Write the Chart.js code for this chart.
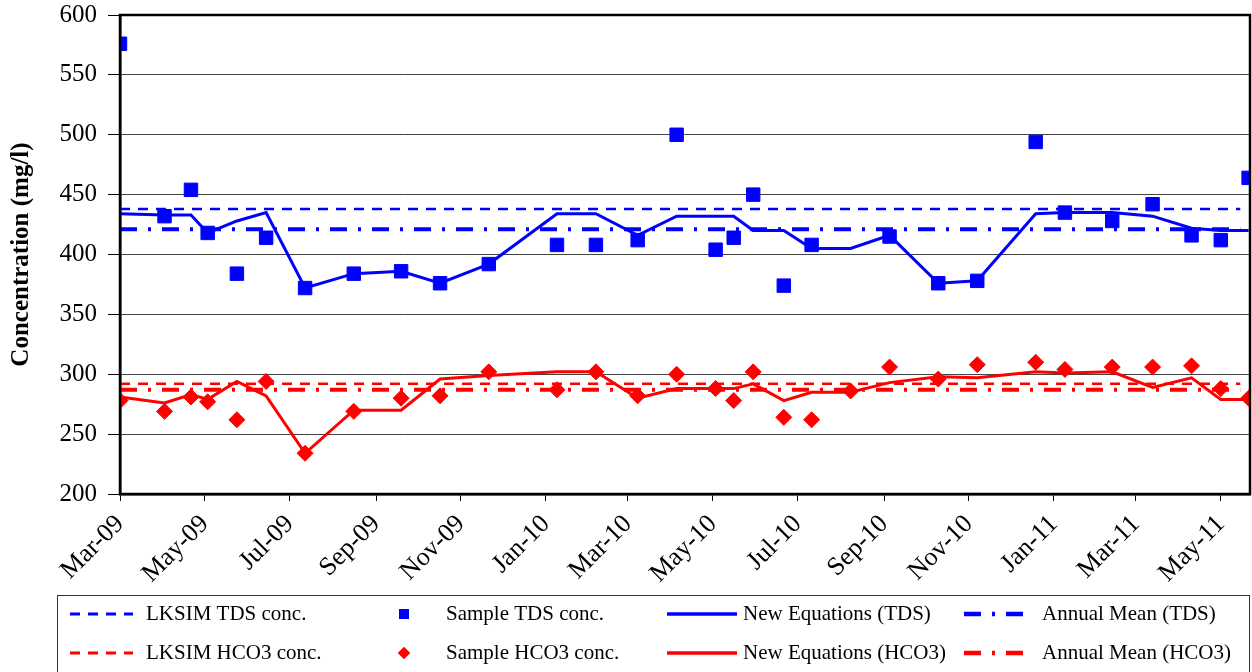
<!DOCTYPE html>
<html>
<head>
<meta charset="utf-8">
<script src="https://cdn.jsdelivr.net/npm/chart.js@4/dist/chart.umd.min.js"></script>
<style>
  html, body { margin: 0; padding: 0; background: #fff; }
  #wrap { width: 1252px; height: 672px; }
</style>
</head>
<body>
<div id="wrap"><canvas id="concChart" width="1252" height="672"></canvas></div>
<script>
// Sampling dates
const sampleDates = [
  '2009-03-01', '2009-04-02', '2009-04-21', '2009-05-03', '2009-05-24', '2009-06-14',
  '2009-07-12', '2009-08-16', '2009-09-19', '2009-10-17', '2009-11-21',
  '2010-01-09', '2010-02-06', '2010-03-08', '2010-04-05', '2010-05-03', '2010-05-16',
  '2010-05-30', '2010-06-21', '2010-07-11', '2010-08-08', '2010-09-05', '2010-10-10',
  '2010-11-07', '2010-12-19', '2011-01-09', '2011-02-12', '2011-03-13', '2011-04-10',
  '2011-05-01', '2011-05-21'
];
const sampleTds = [576, 432, 454, 418, 384, 414, 372, 384, 386, 376, 392,
  408, 408, 412, 500, 404, 414, 450, 374, 408, null, 415, 376, 378, 494,
  435, 428, 442, 416, 412, 464];
const newEqTds = [434, 433, 433, 418, 428, 435, 372, 384, 386, 376, 392,
  434, 434, 416, 432, 432, 432, 420, 420, 405, 405, 416, 376, 378, 434,
  435, 435, 432, 422, 420, 420];
const sampleHco3 = [278, 269, 281, 277, 262, 294, 234, 269, 280, 282, 302,
  287, 302, 282, 300, 288, 278, 302, 264, 262, 286, 306, 296, 308, 310,
  304, 306, 306, 307, 288, 280];
const newEqHco3 = [281, 276, 283, 279, 294, 282, 234, 270, 270, 296, 299,
  302, 302, 280, 288, 288, 288, 292, 278, 285, 285, 293, 298, 297, 302,
  301, 302, 289, 297, 279, 279];

// constant reference levels
const lksimTds = 438;
const annualMeanTds = 421;
const lksimHco3 = 292;
const annualMeanHco3 = 287;
const refLineDates = ['2009-03-01', '2011-05-15'];

// x axis
const tickDates = ['2009-03-01', '2009-05-01', '2009-07-01', '2009-09-01', '2009-11-01',
  '2010-01-01', '2010-03-01', '2010-05-01', '2010-07-01', '2010-09-01', '2010-11-01',
  '2011-01-01', '2011-03-01', '2011-05-01'];
const tickLabels = ['Mar-09', 'May-09', 'Jul-09', 'Sep-09', 'Nov-09', 'Jan-10', 'Mar-10',
  'May-10', 'Jul-10', 'Sep-10', 'Nov-10', 'Jan-11', 'Mar-11', 'May-11'];
const axisStart = '2009-03-01';
const axisEnd = '2011-05-22';

// days since axis start (no date adapter available)
const t0 = Date.UTC(2009, 2, 1);
const toDay = s => {
  const [y, m, d] = s.split('-').map(Number);
  return (Date.UTC(y, m - 1, d) - t0) / 86400000;
};
const pts = vals => sampleDates.map((d, i) => ({ x: toDay(d), y: vals[i] }));
const flat = v => refLineDates.map(d => ({ x: toDay(d), y: v }));

const BLUE = '#0000ff';
const RED = '#ff0000';
const DASH = [10, 8];
const DASHDOT = [17, 11, 3, 11];
const FONT = 'Liberation Serif';

const mkLine = (label, data, color, dash, width) => ({
  type: 'line', label, data, borderColor: color, backgroundColor: color,
  borderWidth: width, borderDash: dash, pointRadius: 0, pointHoverRadius: 0, tension: 0, fill: false
});
const mkPoints = (label, data, color, style, radius) => ({
  type: 'line', label, data, showLine: false, borderColor: color, backgroundColor: color,
  borderWidth: 1, pointStyle: style, pointRadius: radius, pointBorderWidth: 1
});

const datasets = [
  mkLine('LKSIM TDS conc.', flat(lksimTds), BLUE, DASH, 2.5),
  mkPoints('Sample TDS conc.', pts(sampleTds), BLUE, 'rect', 9.5),
  mkLine('New Equations (TDS)', pts(newEqTds), BLUE, [], 3),
  mkLine('Annual Mean (TDS)', flat(annualMeanTds), BLUE, DASHDOT, 4),
  mkLine('LKSIM HCO3 conc.', flat(lksimHco3), RED, DASH, 2.5),
  mkPoints('Sample HCO3 conc.', pts(sampleHco3), RED, 'rectRot', 8),
  mkLine('New Equations (HCO3)', pts(newEqHco3), RED, [], 3),
  mkLine('Annual Mean (HCO3)', flat(annualMeanHco3), RED, DASHDOT, 4)
];

// frame around plot area
const framePlugin = {
  id: 'frame',
  afterDatasetsDraw(chart) {
    const { ctx, chartArea: a } = chart;
    ctx.save();
    ctx.strokeStyle = '#000';
    ctx.lineWidth = 2.5;
    ctx.strokeRect(a.left, a.top, a.right - a.left, a.bottom - a.top);
    ctx.restore();
  }
};

// boxed legend, 4 columns x 2 rows
const legendCols = [
  { x0: 70, x1: 133, tx: 146 },
  { x0: 404, x1: 404, tx: 446 },
  { x0: 667, x1: 737, tx: 743 },
  { x0: 964, x1: 1023, tx: 1042 }
];
const legendRows = [614, 653];
const boxLegend = {
  id: 'boxLegend',
  afterDraw(chart) {
    const ctx = chart.ctx;
    ctx.save();
    ctx.strokeStyle = '#333';
    ctx.lineWidth = 1;
    ctx.strokeRect(57.5, 595.5, 1192, 80);
    chart.data.datasets.forEach((ds, i) => {
      const c = legendCols[i % 4];
      const y = legendRows[Math.floor(i / 4)];
      if (ds.showLine === false) {
        ctx.fillStyle = ds.backgroundColor;
        ctx.beginPath();
        Chart.helpers.drawPoint(ctx, { pointStyle: ds.pointStyle, radius: ds.pointStyle === 'rect' ? 7 : 6, borderWidth: 0 }, c.x0, y);
        ctx.fill();
      } else {
        ctx.strokeStyle = ds.borderColor;
        ctx.lineWidth = ds.borderWidth + 0.5;
        ctx.setLineDash(ds.borderDash || []);
        ctx.beginPath();
        ctx.moveTo(c.x0, y);
        ctx.lineTo(c.x1, y);
        ctx.stroke();
        ctx.setLineDash([]);
      }
      ctx.fillStyle = '#000';
      ctx.font = '21px "' + FONT + '"';
      ctx.textBaseline = 'middle';
      ctx.textAlign = 'left';
      ctx.fillText(ds.label, c.tx, y);
    });
    ctx.restore();
  }
};

const ctxConc = document.getElementById('concChart').getContext('2d');
new Chart(ctxConc, {
  type: 'line',
  data: { datasets },
  options: {
    responsive: false,
    animation: false,
    devicePixelRatio: 1,
    layout: { autoPadding: false, padding: { top: 15, right: 2, left: 0, bottom: 0 } },
    plugins: { legend: { display: false }, tooltip: { enabled: false } },
    scales: {
      x: {
        type: 'linear',
        min: toDay(axisStart),
        max: toDay(axisEnd),
        afterBuildTicks: scale => { scale.ticks = tickDates.map(d => ({ value: toDay(d) })); },
        afterFit: scale => { scale.height = 178; scale.paddingLeft = 0; scale.paddingRight = 0; },
        grid: { drawOnChartArea: false, tickLength: 7, color: '#000', lineWidth: 1 },
        border: { color: '#000', width: 2.5 },
        ticks: {
          autoSkip: false, minRotation: 45, maxRotation: 45, padding: 8,
          color: '#000', font: { family: FONT, size: 26 },
          callback: (v, i) => tickLabels[i]
        }
      },
      y: {
        min: 200,
        max: 600,
        afterFit: scale => { scale.width = 120; scale.paddingTop = 0; scale.paddingBottom = 0; },
        grid: { color: '#444', lineWidth: 1, tickLength: 12, tickColor: '#000' },
        border: { color: '#000', width: 2.5 },
        ticks: { stepSize: 50, padding: 11, color: '#000', font: { family: FONT, size: 25 } },
        title: {
          display: true, text: 'Concentration (mg/l)', color: '#000',
          font: { family: FONT, size: 25, weight: 'bold' }, padding: { top: 7, bottom: 0 }
        }
      }
    }
  },
  plugins: [framePlugin, boxLegend]
});
</script>
</body>
</html>
